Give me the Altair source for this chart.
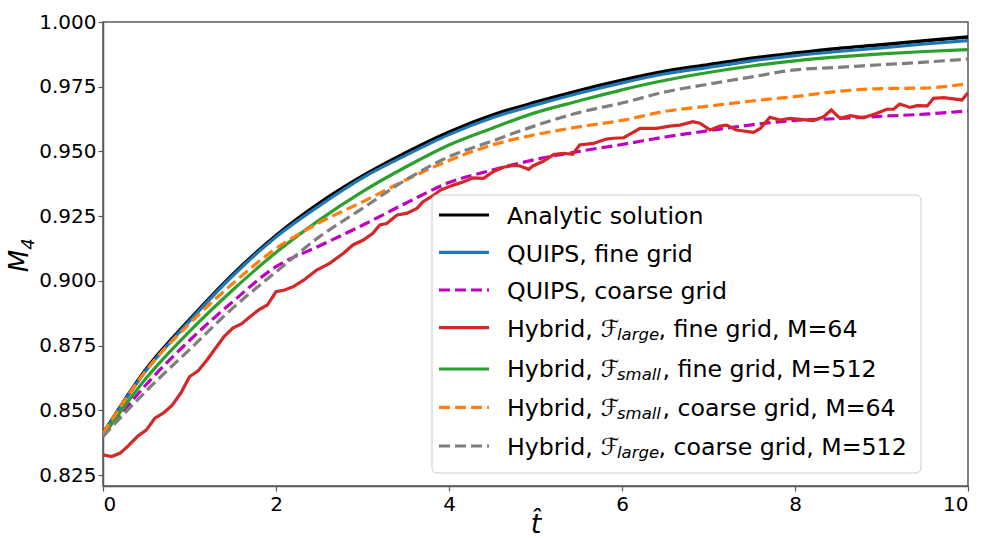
import altair as alt
import pandas as pd

# ---------------- data ----------------
t_smooth = [0.0, 0.5, 1.0, 1.5, 2.0, 2.5, 3.0, 3.5, 4.0, 4.5, 5.0,
            5.5, 6.0, 6.5, 7.0, 7.5, 8.0, 8.5, 9.0, 9.5, 10.0]
analytic = [0.8410, 0.8660, 0.8850, 0.9025, 0.9175, 0.9300, 0.9405, 0.9495, 0.9575, 0.9640, 0.9690,
            0.9735, 0.9775, 0.9810, 0.9835, 0.9860, 0.9880, 0.9898, 0.9912, 0.9928, 0.9942]
quips_fine = [0.8410, 0.8655, 0.8845, 0.9020, 0.9170, 0.9290, 0.9398, 0.9485, 0.9565, 0.9630, 0.9680,
              0.9725, 0.9765, 0.9800, 0.9825, 0.9850, 0.9870, 0.9886, 0.9900, 0.9915, 0.9928]
quips_coarse = [0.8400, 0.8600, 0.8770, 0.8920, 0.9055, 0.9135, 0.9215, 0.9300, 0.9380, 0.9428, 0.9469,
                0.9500, 0.9527, 0.9556, 0.9580, 0.9603, 0.9620, 0.9627, 0.9636, 0.9644, 0.9657]
hyb_small_fine = [0.8400, 0.8625, 0.8805, 0.8965, 0.9110, 0.9235, 0.9345, 0.9440, 0.9525, 0.9590, 0.9650,
                  0.9695, 0.9738, 0.9775, 0.9805, 0.9830, 0.9850, 0.9865, 0.9877, 0.9886, 0.9893]
hyb_small_coarse = [0.8410, 0.8655, 0.8835, 0.8990, 0.9125, 0.9225, 0.9305, 0.9390, 0.9465, 0.9525, 0.9565,
                    0.9595, 0.9620, 0.9655, 0.9675, 0.9695, 0.9712, 0.9732, 0.9743, 0.9745, 0.9762]
hyb_large_coarse = [0.8400, 0.8575, 0.8735, 0.8895, 0.9035, 0.9170, 0.9280, 0.9390, 0.9480, 0.9540, 0.9600,
                    0.9650, 0.9687, 0.9730, 0.9760, 0.9788, 0.9815, 0.9825, 0.9835, 0.9845, 0.9857]

t_noisy = [0.0, 0.1, 0.2, 0.3, 0.4, 0.5, 0.6, 0.7, 0.8, 0.9, 1.0, 1.1, 1.2, 1.3, 1.4, 1.5, 1.6, 1.7, 1.8, 1.9,
           2.0, 2.1, 2.2, 2.32, 2.47, 2.62, 2.78, 2.89, 3.01, 3.12, 3.2, 3.28, 3.4, 3.51, 3.63, 3.7, 3.82, 3.9,
           4.05, 4.17, 4.28, 4.4, 4.51, 4.63, 4.74, 4.82, 4.92, 4.97, 5.09, 5.21, 5.32, 5.43, 5.51, 5.67, 5.82,
           5.9, 6.02, 6.21, 6.4, 6.55, 6.67, 6.82, 6.9, 7.02, 7.13, 7.21, 7.32, 7.52, 7.6, 7.71, 7.83, 7.94,
           8.06, 8.21, 8.33, 8.42, 8.52, 8.64, 8.79, 8.94, 9.06, 9.14, 9.21, 9.33, 9.41, 9.53, 9.6, 9.72, 9.83,
           9.93, 10.0]
hyb_large_fine = [0.8328, 0.8322, 0.8335, 0.8366, 0.8400, 0.8424, 0.8470, 0.8490, 0.8520, 0.8567, 0.8630,
                  0.8653, 0.8694, 0.8740, 0.8785, 0.8818, 0.8834, 0.8862, 0.8888, 0.8907, 0.8958, 0.8965,
                  0.8978, 0.9003, 0.9042, 0.9068, 0.9107, 0.9139, 0.9158, 0.9184, 0.9216, 0.9222, 0.9255,
                  0.9261, 0.9280, 0.9306, 0.9330, 0.9351, 0.9370, 0.9383, 0.9398, 0.9396, 0.9422, 0.9439,
                  0.9446, 0.9444, 0.9431, 0.9444, 0.9462, 0.9488, 0.9493, 0.9489, 0.9525, 0.9531, 0.9548,
                  0.9551, 0.9553, 0.9589, 0.9589, 0.9598, 0.9602, 0.9615, 0.9609, 0.9583, 0.9598, 0.9602,
                  0.9583, 0.9574, 0.9589, 0.9632, 0.9621, 0.9628, 0.9624, 0.9619, 0.9634, 0.9660, 0.9628,
                  0.9638, 0.9630, 0.9647, 0.9663, 0.9663, 0.9683, 0.9670, 0.9677, 0.9676, 0.9705, 0.9708,
                  0.9703, 0.9699, 0.9727]

x_ticks = [0, 2, 4, 6, 8, 10]
y_ticks = [0.825, 0.85, 0.875, 0.9, 0.925, 0.95, 0.975, 1.0]

# ---------------- styling ----------------
W, H = 865, 464
FONT = "DejaVu Sans"
SPINE = "#5a5a5a"
DASH = [11, 5]

x_enc = alt.X("t:Q", scale=alt.Scale(domain=[0, 10], nice=False),
              axis=alt.Axis(values=x_ticks, format="d", title="t\u0302", titleFont=FONT,
                            titleFontSize=27, titleFontStyle="italic", titleFontWeight="normal",
                            titleY=46, titleBaseline="alphabetic", titleColor="black",
                            labelFontSize=20, labelFont=FONT, labelColor="black", labelPadding=3,
                            tickSize=5, tickColor=SPINE, tickWidth=1.2,
                            domain=True, domainColor=SPINE, domainWidth=1.5, grid=False))
y_enc = alt.Y("v:Q", scale=alt.Scale(domain=[0.8208, 1.0], nice=False, zero=False),
              axis=alt.Axis(values=y_ticks, format=".3f", title="",
                            labelFontSize=20, labelFont=FONT, labelColor="black", labelPadding=2,
                            tickSize=5, tickColor=SPINE, tickWidth=1.2,
                            domain=True, domainColor=SPINE, domainWidth=1.5, grid=False))


def line_layer(t, v, color, width, dashed=False, interp="monotone"):
    df = pd.DataFrame({"t": t, "v": v})
    kw = dict(color=color, strokeWidth=width, interpolate=interp, clip=True)
    if dashed:
        kw["strokeDash"] = DASH
    return alt.Chart(df).mark_line(**kw).encode(x=x_enc, y=y_enc)


series_layers = [
    line_layer(t_smooth, analytic, "#000000", 3.5),
    line_layer(t_smooth, quips_fine, "#1f77b4", 3.2),
    line_layer(t_smooth, quips_coarse, "#bf00bf", 3.2, dashed=True),
    line_layer(t_noisy, hyb_large_fine, "#d62728", 3.2, interp="linear"),
    line_layer(t_smooth, hyb_small_fine, "#2ca02c", 3.2),
    line_layer(t_smooth, hyb_small_coarse, "#ff7f0e", 3.2, dashed=True),
    line_layer(t_smooth, hyb_large_coarse, "#7f7f7f", 3.2, dashed=True),
]

one = alt.Data(values=[{"k": 1}])

# y-axis title M_4 (italic M with a subscript 4)
ytitle_layers = [
    alt.Chart(one).mark_text(angle=270, align="center", baseline="alphabetic", font=FONT,
                             fontSize=26, fontStyle="italic", color="black").encode(
        x=alt.value(-75), y=alt.value(239), text=alt.value("M")),
    alt.Chart(one).mark_text(angle=270, align="center", baseline="alphabetic", font=FONT,
                             fontSize=18, fontStyle="italic", color="black").encode(
        x=alt.value(-69), y=alt.value(222), text=alt.value("4")),
]

# ---------------- legend (drawn in pixel space) ----------------
LEG_FS = 23.7
SUB_FS = 16.5
legend_layers = [
    alt.Chart(one).mark_rect(fill="white", fillOpacity=0.85, stroke="#cccccc", strokeWidth=1,
                             cornerRadius=5).encode(
        x=alt.value(329), x2=alt.value(818), y=alt.value(173), y2=alt.value(451))
]

legend_rows = [
    # (line y, baseline y, colour, dashed, prefix, script sub, suffix, suffix x)
    (193.0, 202.3, "#000000", False, "Analytic solution", None, None, None),
    (230.3, 239.7, "#1f77b4", False, "QUIPS, fine grid", None, None, None),
    (268.0, 277.3, "#bf00bf", True, "QUIPS, coarse grid", None, None, None),
    (305.7, 314.7, "#d62728", False, "Hybrid, ", "large", ", fine grid, M=64", 555.5),
    (347.0, 355.3, "#2ca02c", False, "Hybrid, ", "small", ", fine grid, M=512", 559.5),
    (385.3, 394.0, "#ff7f0e", True, "Hybrid, ", "small", ", coarse grid, M=64", 559.5),
    (424.0, 433.0, "#7f7f7f", True, "Hybrid, ", "large", ", coarse grid, M=512", 555.5),
]

for ly, by, col, dashed, pre, sub, suf, sx in legend_rows:
    rkw = dict(color=col, strokeWidth=3.2)
    if dashed:
        rkw["strokeDash"] = DASH
    legend_layers.append(alt.Chart(one).mark_rule(**rkw).encode(
        x=alt.value(336), x2=alt.value(386), y=alt.value(ly)))
    legend_layers.append(alt.Chart(one).mark_text(
        align="left", baseline="alphabetic", font=FONT, fontSize=LEG_FS, color="black").encode(
        x=alt.value(404), y=alt.value(by), text=alt.value(pre)))
    if sub is not None:
        legend_layers.append(alt.Chart(one).mark_text(
            align="left", baseline="alphabetic", font=FONT, fontSize=LEG_FS, fontStyle="italic",
            color="black").encode(x=alt.value(497.5), y=alt.value(by), text=alt.value("\u2131")))
        legend_layers.append(alt.Chart(one).mark_text(
            align="left", baseline="alphabetic", font=FONT, fontSize=SUB_FS, fontStyle="italic",
            color="black").encode(x=alt.value(514), y=alt.value(by + 3), text=alt.value(sub)))
        legend_layers.append(alt.Chart(one).mark_text(
            align="left", baseline="alphabetic", font=FONT, fontSize=LEG_FS, color="black").encode(
            x=alt.value(sx), y=alt.value(by), text=alt.value(suf)))

chart = (
    alt.layer(*series_layers, *ytitle_layers, *legend_layers)
    .properties(
        width=W, height=H,
        padding={"left": 103, "top": 22, "right": 16, "bottom": 52},
        autosize=alt.AutoSizeParams(type="none"),
        background="white",
    )
    .configure(font=FONT)
    .configure_view(stroke=SPINE, strokeWidth=1.5)
)

chart.save("out.html", embed_options={"renderer": "svg", "actions": False})
